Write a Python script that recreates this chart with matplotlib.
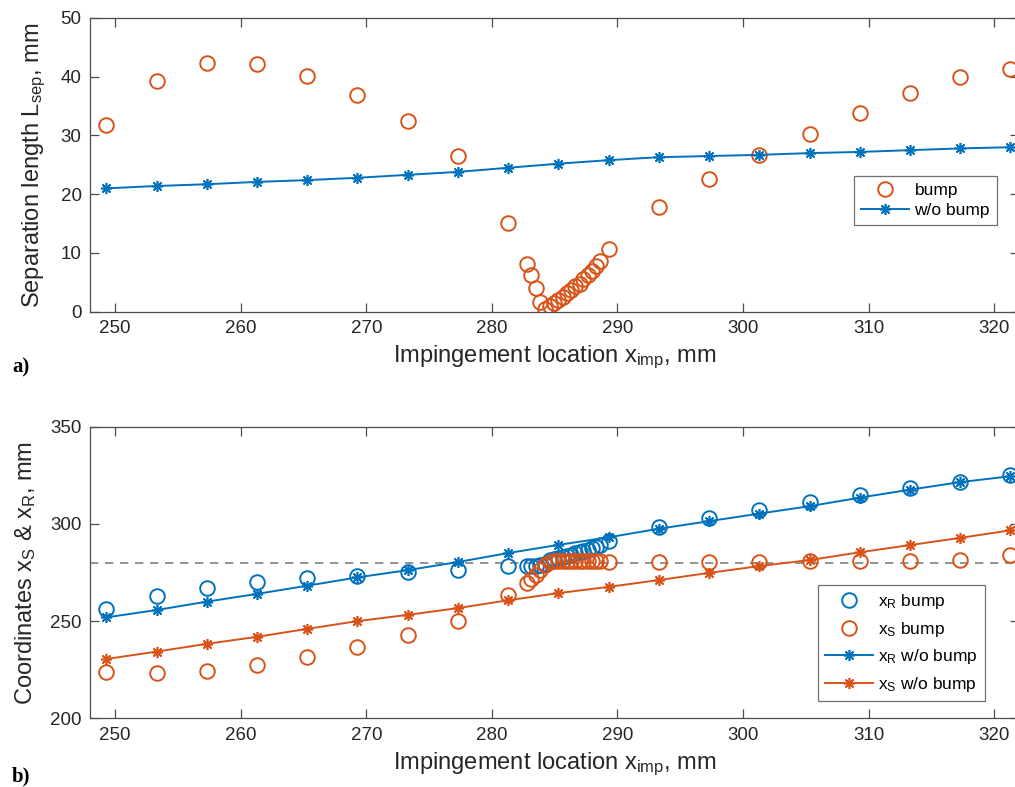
import matplotlib
matplotlib.use("Agg")
import matplotlib.pyplot as plt

plt.rcParams['font.family'] = ['Liberation Sans', 'DejaVu Sans']
plt.rcParams['mathtext.default'] = 'regular'

# ---------------- data ----------------
x_grid = [249.3, 253.3, 257.3, 261.3, 265.3, 269.3, 273.3, 277.3, 281.3, 285.3,
          289.3, 293.3, 297.3, 301.3, 305.3, 309.3, 313.3, 317.3, 321.3]

lsep_wo = [21.0, 21.4, 21.7, 22.1, 22.4, 22.8, 23.3, 23.8, 24.5, 25.2,
           25.8, 26.3, 26.5, 26.7, 27.0, 27.2, 27.5, 27.8, 28.0]

xS_wo = [230.5, 234.3, 238.3, 241.9, 246.0, 250.0, 253.2, 256.7, 260.7, 264.4,
         267.6, 271.1, 274.8, 278.3, 281.4, 285.4, 289.1, 292.8, 296.7]

xR_wo = [251.9, 255.7, 260.0, 264.0, 268.2, 272.5, 276.2, 280.4, 285.0, 289.2,
         293.1, 297.5, 301.4, 305.3, 309.1, 313.5, 317.6, 321.5, 324.5]

x_bump = [249.3, 253.3, 257.3, 261.3, 265.3, 269.3, 273.3, 277.3, 281.3,
          282.8, 283.1, 283.5, 283.85, 284.2, 284.6, 284.95, 285.3, 285.65,
          286.0, 286.3, 286.65, 287.0, 287.3, 287.65, 288.0, 288.3, 288.65,
          289.3, 293.3, 297.3, 301.3, 305.3, 309.3, 313.3, 317.3, 321.3]

lsep_bump = [31.8, 39.3, 42.4, 42.2, 40.1, 36.9, 32.5, 26.5, 15.1,
             8.1, 6.3, 4.0, 1.7, 0.4, 0.9, 1.4, 2.0, 2.55,
             3.1, 3.7, 4.3, 4.8, 5.5, 6.25, 7.0, 7.8, 8.7,
             10.6, 17.8, 22.6, 26.6, 30.3, 33.8, 37.2, 40.0, 41.3]

xS_bump = [223.8, 223.3, 224.3, 227.4, 231.5, 236.7, 242.8, 250.0, 263.4,
           269.6, 271.4, 273.9, 276.4, 278.9, 280.6, 280.7, 280.7, 280.7,
           280.7, 280.7, 280.7, 280.7, 280.7, 280.7, 280.7, 280.7, 280.7,
           280.6, 280.5, 280.5, 280.5, 280.8, 280.8, 280.9, 281.3, 284.0]

xR_bump = [256.0, 262.8, 266.9, 269.9, 272.0, 273.4, 275.2, 276.4, 278.4,
           278.1, 278.3, 278.5, 278.8, 279.5, 281.3, 281.9, 282.5, 283.0,
           283.6, 284.2, 284.8, 285.3, 286.0, 286.8, 287.5, 288.3, 289.1,
           291.0, 298.3, 303.2, 307.3, 311.3, 315.0, 318.5, 321.8, 325.2]

x_ticks = [250, 260, 270, 280, 290, 300, 310, 320]
y_ticks_top = [0, 10, 20, 30, 40, 50]
y_ticks_bot = [200, 250, 300, 350]
x_sep_ref = 280.0

# ---------------- style ----------------
BLUE = '#0072BD'
ORANGE = '#D95319'
AXC = '#4d4d4d'
TXT = '#262626'

W, H = 1015, 787
fig = plt.figure(figsize=(W / 100, H / 100), dpi=100)

xlim = (248.0, 322.0)
ax_left_px = 90
ax_right_px = 90 + (xlim[1] - xlim[0]) * 12.557


def make_ax(top_px, bot_px):
    return fig.add_axes([ax_left_px / W, 1 - bot_px / H,
                         (ax_right_px - ax_left_px) / W, (bot_px - top_px) / H])


def style(ax):
    for s in ax.spines.values():
        s.set_color(AXC)
        s.set_linewidth(0.9)
    ax.tick_params(direction='in', length=6.5, width=0.9, color=AXC,
                   labelsize=13.5, labelcolor=TXT, top=True, right=True, pad=6)
    ax.set_xlim(*xlim)
    ax.set_xticks(x_ticks)


circ = dict(marker='o', markersize=10.5, markerfacecolor='none',
            markeredgewidth=1.4, linestyle='none')
star = dict(marker=(8, 2, 0), markersize=8, markeredgewidth=1.2)

LBL = 17

# ---- top panel ----
ax1 = make_ax(18, 311.7)
style(ax1)
ax1.plot(x_bump, lsep_bump, color=ORANGE, markeredgecolor=ORANGE, **circ, label='bump')
ax1.plot(x_grid, lsep_wo, color=BLUE, lw=1.4, markeredgecolor=BLUE, **star, label='w/o bump')
ax1.set_ylim(0, 50)
ax1.set_yticks(y_ticks_top)
ax1.set_xlabel('Impingement location x$_{imp}$, mm', fontsize=LBL, color=TXT, labelpad=5)
ax1.set_ylabel('Separation length L$_{sep}$, mm', fontsize=LBL, color=TXT, labelpad=9)
leg1 = ax1.legend(loc='upper right', bbox_to_anchor=(0.976, 0.462), borderaxespad=0,
                  fontsize=12.5, frameon=True, fancybox=False, edgecolor=AXC,
                  handlelength=2.8, labelspacing=0.3, borderpad=0.4, handletextpad=0.3)
leg1.get_frame().set_linewidth(0.9)

# ---- bottom panel ----
ax2 = make_ax(426.7, 718.3)
style(ax2)
ax2.axhline(x_sep_ref, color='#808080', lw=1.2, ls=(0, (5, 4)), zorder=1)
ax2.plot(x_bump, xR_bump, color=BLUE, markeredgecolor=BLUE, **circ, label='x$_R$ bump')
ax2.plot(x_bump, xS_bump, color=ORANGE, markeredgecolor=ORANGE, **circ, label='x$_S$ bump')
ax2.plot(x_grid, xR_wo, color=BLUE, lw=1.4, markeredgecolor=BLUE, **star, label='x$_R$ w/o bump')
ax2.plot(x_grid, xS_wo, color=ORANGE, lw=1.4, markeredgecolor=ORANGE, **star, label='x$_S$ w/o bump')
ax2.set_ylim(200, 350)
ax2.set_yticks(y_ticks_bot)
ax2.set_xlabel('Impingement location x$_{imp}$, mm', fontsize=LBL, color=TXT, labelpad=5)
ax2.set_ylabel('Coordinates x$_S$ & x$_R$, mm', fontsize=LBL, color=TXT, labelpad=9)
leg2 = ax2.legend(loc='upper right', bbox_to_anchor=(0.963, 0.457), borderaxespad=0,
                  fontsize=12.5, frameon=True, fancybox=False, edgecolor=AXC,
                  handlelength=2.8, labelspacing=0.5, borderpad=0.4, handletextpad=0.3)
leg2.get_frame().set_linewidth(0.9)

fig.text(12 / W, 1 - 367 / H, 'a)', fontsize=15, fontweight='bold',
         family='Liberation Serif', va='center', ha='left')
fig.text(12 / W, 1 - 776 / H, 'b)', fontsize=15, fontweight='bold',
         family='Liberation Serif', va='center', ha='left')

fig.savefig('out.png', dpi=100)
